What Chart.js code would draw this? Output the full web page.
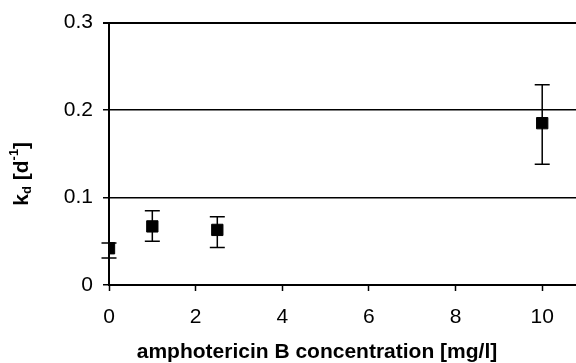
<!DOCTYPE html>
<html>
<head>
<meta charset="utf-8">
<script src="https://cdn.jsdelivr.net/npm/chart.js@4"></script>
<style>
  html, body { margin: 0; padding: 0; background: #fff; overflow: hidden; }
  /* plot runs off the right edge in the source, so the canvas is a bit wider than the window */
  #wrap { width: 585px; height: 363px; }
</style>
</head>
<body>
<div id="wrap"><canvas id="chart"></canvas></div>
<script>
// data
var concentrations = [0, 1, 2.5, 10];
var kdValues = [0.042, 0.067, 0.063, 0.185];
var kdLow = [0.031, 0.050, 0.043, 0.138];
var kdHigh = [0.048, 0.085, 0.078, 0.229];
var xTicks = [0, 2, 4, 6, 8, 10];
var yTicks = [0, 0.1, 0.2, 0.3];
var xTitle = "amphotericin B concentration [mg/l]";

var FONT = "'Liberation Sans', Arial, sans-serif";

// error bars, drawn behind the markers
var errorBars = {
  id: "errorBars",
  beforeDatasetsDraw: function (chart) {
    var ctx = chart.ctx;
    var xs = chart.scales.x, ys = chart.scales.y;
    ctx.save();
    ctx.strokeStyle = "#000";
    ctx.lineWidth = 1.5;
    for (var i = 0; i < concentrations.length; i++) {
      var px = xs.getPixelForValue(concentrations[i]);
      var top = ys.getPixelForValue(kdHigh[i]);
      var bot = ys.getPixelForValue(kdLow[i]);
      ctx.beginPath();
      ctx.moveTo(px, top); ctx.lineTo(px, bot);
      ctx.moveTo(px - 7.5, top); ctx.lineTo(px + 7.5, top);
      ctx.moveTo(px - 7.5, bot); ctx.lineTo(px + 7.5, bot);
      ctx.stroke();
    }
    ctx.restore();
  }
};

// axis titles (y one has sub / superscript)
var axisTitles = {
  id: "axisTitles",
  afterDraw: function (chart) {
    var ctx = chart.ctx;
    var area = chart.chartArea;
    ctx.save();
    ctx.fillStyle = "#000";
    ctx.textBaseline = "middle";

    ctx.font = "bold 21px " + FONT;
    ctx.textAlign = "center";
    ctx.fillText(xTitle, 317, 352);

    var parts = [
      { t: "k", size: 21, dy: 0 },
      { t: "d", size: 13, dy: 5 },
      { t: " [d", size: 21, dy: 0 },
      { t: "-1", size: 13, dy: -8 },
      { t: "]", size: 21, dy: 0 }
    ];
    var total = 0;
    parts.forEach(function (p) {
      ctx.font = "bold " + p.size + "px " + FONT;
      p.w = ctx.measureText(p.t).width;
      total += p.w;
    });
    ctx.textAlign = "left";
    ctx.translate(22, (area.top + area.bottom) / 2 + 20);
    ctx.rotate(-Math.PI / 2);
    var x = -total / 2;
    parts.forEach(function (p) {
      ctx.font = "bold " + p.size + "px " + FONT;
      ctx.fillText(p.t, x, p.dy);
      x += p.w;
    });
    ctx.restore();
  }
};

var points = concentrations.map(function (c, i) {
  return { x: c, y: kdValues[i] };
});

new Chart(document.getElementById("chart"), {
  type: "scatter",
  data: {
    datasets: [
      {
        data: points,
        pointStyle: "rect",
        pointRadius: 8,
        pointHoverRadius: 8,
        backgroundColor: "#000",
        borderColor: "#000",
        borderWidth: 1,
      },
    ],
  },
  options: {
    responsive: true,
    maintainAspectRatio: false,
    animation: false,
    layout: { padding: { top: 22, right: 0, left: 0, bottom: 0 } },
    plugins: {
      legend: { display: false },
      tooltip: { enabled: false },
    },
    scales: {
      x: {
        type: "linear",
        min: 0,
        max: 10.78,
        afterBuildTicks: function (s) {
          s.ticks = xTicks.map(function (v) { return { value: v }; });
        },
        afterFit: function (s) {
          s.height = 78;
          s.paddingLeft = 0;
          s.paddingRight = 0;
        },
        border: { color: "#000", width: 2 },
        grid: {
          drawOnChartArea: false,
          drawTicks: true,
          tickLength: 6,
          tickColor: "#000",
          tickWidth: 1.5,
        },
        ticks: {
          color: "#000",
          font: { family: FONT, size: 21 },
          padding: 14,
          maxRotation: 0,
        },
      },
      y: {
        type: "linear",
        min: 0,
        max: 0.3,
        afterBuildTicks: function (s) {
          s.ticks = yTicks.map(function (v) { return { value: v }; });
        },
        afterFit: function (s) { s.width = 109; },
        border: { color: "#000", width: 2 },
        grid: {
          color: "#000",
          lineWidth: function (c) { return c.tick && c.tick.value === 0.3 ? 2 : 1.5; },
          drawTicks: true,
          tickLength: 6,
          tickColor: "#000",
        },
        ticks: {
          color: "#000",
          font: { family: FONT, size: 21 },
          padding: 10,
          callback: function (v) { return String(v); },
        },
      },
    },
  },
  plugins: [errorBars, axisTitles],
});
</script>
</body>
</html>
